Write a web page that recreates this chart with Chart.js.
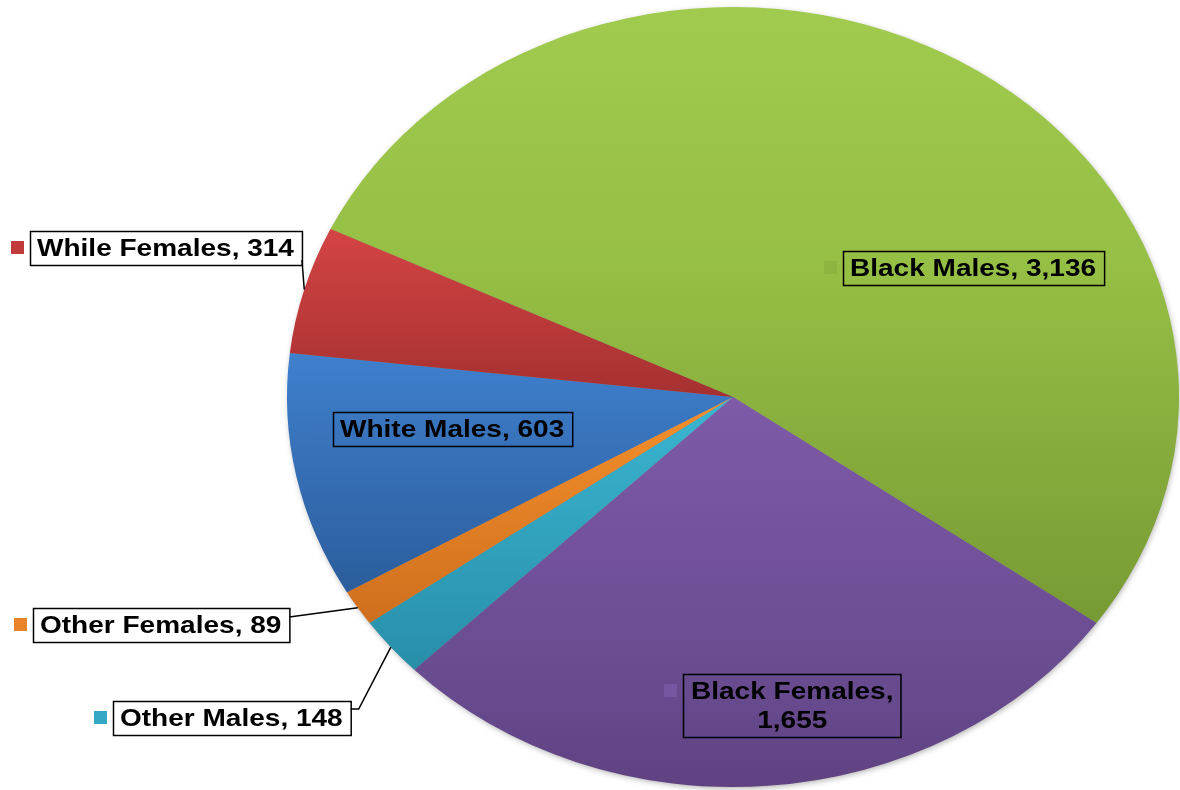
<!DOCTYPE html>
<html>
<head>
<meta charset="utf-8">
<script src="https://cdn.jsdelivr.net/npm/chart.js@4/dist/chart.umd.min.js"></script>
<style>
  html, body { margin: 0; padding: 0; background: #ffffff; }
  #wrap { position: relative; width: 1180px; height: 790px; }
</style>
</head>
<body>
<div id="wrap"><canvas id="pie"></canvas></div>
<script>
// Population counts by group
const categories = ['Black Males', 'Black Females', 'Other Males', 'Other Females', 'White Males', 'While Females'];
const counts = [3136, 1655, 148, 89, 603, 314];

// Slice shading: vertical gradient stops (fraction of plot height, colour)
const sliceStops = [
  [[0, '#a0cb4e'], [0.33, '#96bf45'], [0.79, '#789a34'], [1, '#6e8e2f']],
  [[0, '#8a66b8'], [0.5, '#7e5aa8'], [0.89, '#674a8d'], [1, '#5f4281']],
  [[0, '#45c4e0'], [0.5, '#3bb6d2'], [0.85, '#288ea8'], [1, '#23829a']],
  [[0, '#ff9a35'], [0.5, '#f5902c'], [0.79, '#cf6f1e'], [1, '#c0661a']],
  [[0, '#4a8ee0'], [0.44, '#3f80ce'], [0.75, '#2c5d9c'], [1, '#244f86']],
  [[0, '#de4c4c'], [0.286, '#d44444'], [0.5, '#a53030'], [1, '#902828']]
];
const keyColours = ['#8db43f', '#7556a0', '#35a8c6', '#e8832a', '#3a74be', '#c23b3b'];

// Horizontal stretch of the pie and of the label text
const SX = 1.1436;

// Data-label boxes: left/top in page pixels, leader anchor on the box
const labelLayout = [
  { left: 843, top: 251, lines: 1 },
  { left: 683, top: 674, lines: 2 },
  { left: 113, top: 701, lines: 1, leader: { dy: 8, stub: 8 } },
  { left: 33,  top: 608, lines: 1, leader: { dy: 9, stub: 0 } },
  { left: 333, top: 412, lines: 1 },
  { left: 30,  top: 231, lines: 1, leader: { dy: 29, stub: 0 } }
];

const gradCache = {};
function sliceFill(context) {
  const chart = context.chart;
  const area = chart.chartArea;
  const i = context.dataIndex;
  if (!area) return keyColours[i];
  const key = i + ':' + area.top + ':' + area.bottom;
  if (!gradCache[key]) {
    const g = chart.ctx.createLinearGradient(0, area.top, 0, area.bottom);
    sliceStops[i].forEach(([t, c]) => g.addColorStop(t, c));
    gradCache[key] = g;
  }
  return gradCache[key];
}

// Stretch the round pie into an ellipse around its centre, with a soft shadow
const stretchPlugin = {
  id: 'stretchPie',
  beforeDatasetsDraw(chart) {
    const arc = chart.getDatasetMeta(0).data[0];
    const ctx = chart.ctx;
    ctx.save();
    ctx.translate(arc.x, 0);
    ctx.scale(SX, 1);
    ctx.translate(-arc.x, 0);
    ctx.save();
    ctx.shadowColor = 'rgba(0,0,0,0.35)';
    ctx.shadowBlur = 6;
    ctx.shadowOffsetX = 1;
    ctx.shadowOffsetY = 2;
    ctx.beginPath();
    ctx.arc(arc.x, arc.y, arc.outerRadius - 1, 0, Math.PI * 2);
    ctx.fillStyle = '#8a8a8a';
    ctx.fill();
    ctx.restore();
  },
  afterDatasetsDraw(chart) {
    chart.ctx.restore();
  }
};

// Boxed data labels with colour keys and leader lines
const labelPlugin = {
  id: 'boxedLabels',
  afterDraw(chart) {
    const ctx = chart.ctx;
    const meta = chart.getDatasetMeta(0);
    const font = 'bold 24.5px "Liberation Sans", Arial, sans-serif';
    const pad = 7;
    const lineH = 29;
    ctx.save();
    ctx.font = font;
    ctx.textBaseline = 'alphabetic';
    meta.data.forEach((arc, i) => {
      const L = labelLayout[i];
      const valueText = counts[i].toLocaleString('en-US');
      const lines = L.lines === 2
        ? [categories[i] + ',', valueText]
        : [categories[i] + ', ' + valueText];
      const widths = lines.map(s => ctx.measureText(s).width * SX);
      const textW = Math.max(...widths);
      const boxW = textW + pad * 2 + 1;
      const boxH = L.lines === 2 ? 63 : 34;

      // leader line from the box to the middle of the slice's rim
      if (L.leader) {
        const mid = (arc.startAngle + arc.endAngle) / 2;
        const px = arc.x + Math.cos(mid) * arc.outerRadius * SX;
        const py = arc.y + Math.sin(mid) * arc.outerRadius;
        const ax = L.left + boxW;
        const ay = L.top + L.leader.dy;
        ctx.beginPath();
        ctx.moveTo(ax, ay);
        if (L.leader.stub) ctx.lineTo(ax + L.leader.stub, ay);
        ctx.lineTo(px, py);
        ctx.strokeStyle = '#000';
        ctx.lineWidth = 1.5;
        ctx.stroke();
      }

      // box outline
      ctx.strokeStyle = '#000';
      ctx.lineWidth = 1.5;
      ctx.strokeRect(L.left + 0.5, L.top + 0.5, boxW, boxH);

      // colour key
      ctx.fillStyle = keyColours[i];
      ctx.fillRect(L.left - 19, L.top + 10, 13, 13);

      // text
      ctx.fillStyle = '#000';
      lines.forEach((s, k) => {
        const w = widths[k];
        const x = L.lines === 2 ? L.left + (boxW - w) / 2 + 0.5 : L.left + pad;
        const y = L.top + 25 + k * lineH;
        ctx.save();
        ctx.translate(x, y);
        ctx.scale(SX, 1);
        ctx.fillText(s, 0, 0);
        ctx.restore();
      });
    });
    ctx.restore();
  }
};

new Chart(document.getElementById('pie'), {
  type: 'pie',
  data: {
    labels: categories,
    datasets: [{
      data: counts,
      backgroundColor: sliceFill,
      borderWidth: 0,
      clip: false
    }]
  },
  options: {
    responsive: true,
    maintainAspectRatio: false,
    animation: false,
    events: [],
    rotation: 295.5,
    layout: { padding: { left: 343, right: 57, top: 7, bottom: 3 } },
    plugins: {
      legend: { display: false },
      tooltip: { enabled: false }
    }
  },
  plugins: [stretchPlugin, labelPlugin]
});
</script>
</body>
</html>
